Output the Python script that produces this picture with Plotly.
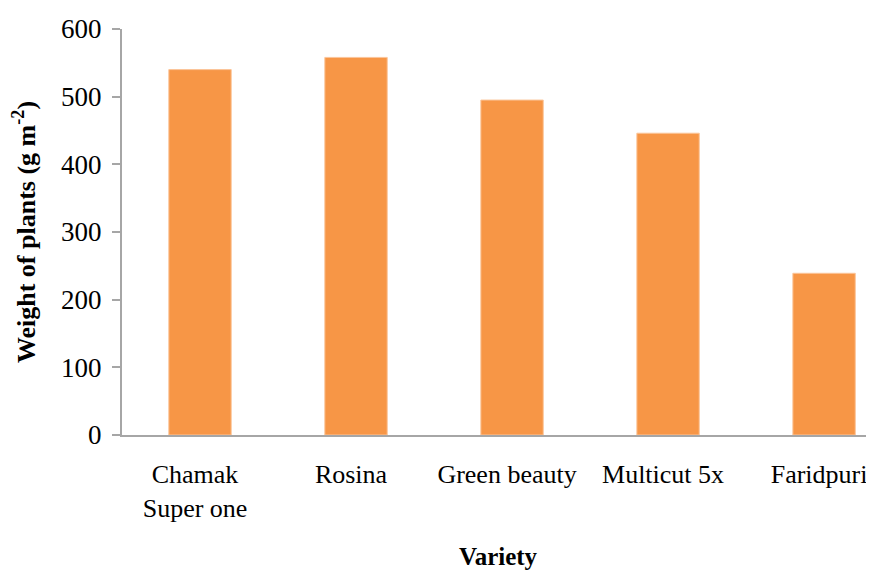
import plotly.graph_objects as go

varieties = ["Chamak<br>Super one", "Rosina", "Green beauty", "Multicut 5x", "Faridpuri"]
weights = [540, 558, 495, 446, 239]
y_ticks = [0, 100, 200, 300, 400, 500, 600]

FONT = "Liberation Serif, Times New Roman, serif"
AXIS = "#A6A6A6"

fig = go.Figure(go.Bar(
    x=varieties, y=weights,
    marker=dict(color="#F79646", line=dict(color="#FBC59A", width=1)),
    width=0.4,
))

fig.update_layout(
    width=866, height=562,
    margin=dict(l=114, r=0, t=21, b=135),
    paper_bgcolor="white", plot_bgcolor="white",
    font=dict(family=FONT, color="black", size=24),
    showlegend=False,
    xaxis=dict(
        range=[-0.5, 4.32],
        showline=True, linecolor=AXIS, linewidth=2,
        ticks="", showgrid=False,
        tickfont=dict(size=26),
        ticklabelstandoff=15,
        ticklabelshift=-5,
        title=dict(text="<b>Variety</b>", font=dict(size=25), standoff=28),
    ),
    yaxis=dict(
        range=[0, 600], tickvals=y_ticks,
        showline=True, linecolor=AXIS, linewidth=2,
        ticks="outside", ticklen=8, tickcolor=AXIS, tickwidth=2,
        showgrid=False, zeroline=False,
        tickfont=dict(size=27),
        ticklabelstandoff=5,
        title=dict(text="<b>Weight of plants (g m<sup>-2</sup>)</b>", font=dict(size=26), standoff=28),
    ),
)

fig.write_html("out.html")
